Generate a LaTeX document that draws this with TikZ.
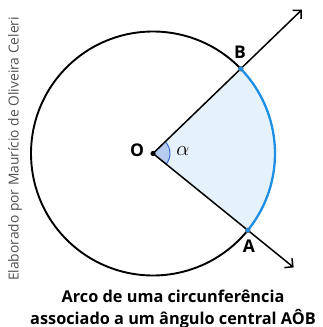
\documentclass[tikz,border=0pt]{standalone}
\usepackage{fontspec}
\setmainfont{Open Sans}
\usetikzlibrary{arrows.meta,calc}
\definecolor{arcblue}{HTML}{1E8FE3}
\definecolor{sectorfill}{HTML}{E6F2FB}
\definecolor{anglefill}{HTML}{B7CBEE}
\definecolor{anglestroke}{HTML}{3F6FD8}
\definecolor{credit}{HTML}{505050}
\tikzset{
  ray/.style={line width=1.5pt, -{Straight Barb[length=6pt,width=12pt,line width=1.5pt]}},
  circ/.style={line width=1.9pt, black},
  bluearc/.style={line width=2.3pt, arcblue},
  ptdot/.style={circle, fill=arcblue, draw=black!60, line width=0.3pt, inner sep=0pt, minimum size=5pt},
  lbl/.style={font=\bfseries\fontsize{17.5}{20}\selectfont},
  title/.style={font=\bfseries\fontsize{16.3}{20}\selectfont, anchor=base},
}
\begin{document}
\begin{tikzpicture}[x=1pt,y=1pt]
\useasboundingbox (0,0) rectangle (322,327);
\def\R{122}
\coordinate (O) at (153,173.5);
\coordinate (B) at ($(O)+(44:\R)$);
\coordinate (A) at ($(O)+(-39:\R)$);
\coordinate (Bend) at ($(O)+(44:207)$);
\coordinate (Aend) at ($(O)+(-39:181)$);
% sector
\fill[sectorfill] (O) -- (A) arc[start angle=-39,end angle=44,radius=\R] -- cycle;
% angle marker
\fill[anglefill] (O) -- ($(O)+(-39:17)$) arc[start angle=-39,end angle=44,radius=17] -- cycle;
\draw[anglestroke, line width=1pt] ($(O)+(-39:17)$) arc[start angle=-39,end angle=44,radius=17];
% circle (black part)
\draw[circ] (B) arc[start angle=44,end angle=321,radius=\R];
% blue arc
\draw[bluearc] (A) arc[start angle=-39,end angle=44,radius=\R];
% rays
\draw[ray] (O) -- (Bend);
\draw[ray] (O) -- (Aend);
% center dot
\fill[black] (O) circle (2.6pt);
\node[ptdot] (Bd) at (B) {};
\node[ptdot] (Ad) at (A) {};
% labels
\node[lbl] (Olbl) at (137,176.5) {O};
\node[lbl] (Blbl) at (240,275) {B};
\node[lbl] (Albl) at (249,81) {A};
\node (alpha) at (183,175.5) {\fontsize{20}{22}\selectfont$\alpha$};
% title
\node[title] (cap1) at (173,24.5) {Arco de uma circunferência};
\node[title] (cap2) at (173,2.5) {associado a um ângulo central AÔB};
% credit
\node[rotate=90, text=credit, font=\fontsize{13.8}{16}\selectfont] (credit) at (15,178) {Elaborado por Maurício de Oliveira Celeri};
\end{tikzpicture}
\end{document}
